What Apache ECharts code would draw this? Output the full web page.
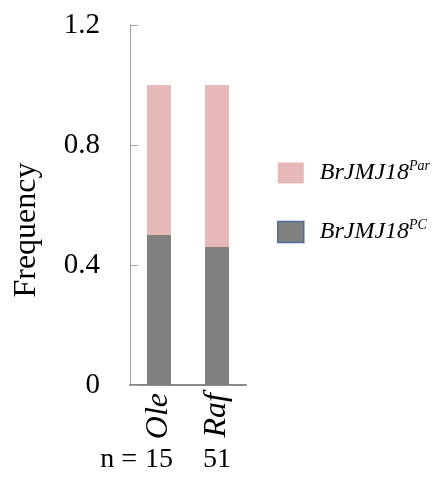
<!DOCTYPE html>
<html>
<head>
<meta charset="utf-8">
<script src="https://cdn.jsdelivr.net/npm/echarts@6/dist/echarts.min.js"></script>
<style>
  html, body { margin: 0; padding: 0; background: #fff; }
  #chart { width: 441px; height: 482px; }
</style>
</head>
<body>
<div id="chart"></div>
<script>
// Cultivars and sample sizes
const categories = ['Ole', 'Raf'];
const sampleSizes = ['15', '51'];
// Allele frequencies per cultivar
const pcFreq = [0.50, 0.46];
const parFreq = [0.50, 0.54];
const yTicks = { min: 0, max: 1.2, interval: 0.4 };

const serif = "'Liberation Serif', 'Times New Roman', Times, serif";
const pink = '#e6b8b7';
const grey = '#808080';

const chart = echarts.init(document.getElementById('chart'));
chart.setOption({
  animation: false,
  grid: { left: 130, top: 25, width: 116, height: 360 },
  graphic: [{
    type: 'text',
    x: 27, y: 230,
    rotation: Math.PI / 2,
    style: { text: 'Frequency', fontFamily: serif, fontSize: 32, fill: '#000', align: 'center', verticalAlign: 'middle' }
  }],
  legend: {
    orient: 'vertical',
    left: 272, top: 154,
    itemWidth: 26, itemHeight: 21, itemGap: 33,
    icon: 'rect',
    data: [
      { name: 'Par' },
      { name: 'PC', itemStyle: { borderColor: '#4f6d9a', borderWidth: 1.5 } }
    ],
    formatter: n => '{m|BrJMJ18}{s|' + n + '}',
    textStyle: {
      rich: {
        m: { fontFamily: serif, fontStyle: 'italic', fontSize: 24, color: '#000', padding: [0, 0, 0, 11], lineHeight: 28 },
        s: { fontFamily: serif, fontStyle: 'italic', fontSize: 14, color: '#000', verticalAlign: 'top', lineHeight: 28, padding: [0, 0, 8, 0] }
      }
    }
  },
  xAxis: [{
    type: 'category',
    data: categories,
    axisLine: { lineStyle: { color: '#888', width: 2 } },
    axisTick: { show: false },
    axisLabel: { rotate: 90, margin: 8, fontFamily: serif, fontStyle: 'italic', fontSize: 32, color: '#000' }
  }, {
    type: 'category',
    position: 'bottom',
    offset: 75,
    data: sampleSizes,
    name: 'n =',
    nameLocation: 'start',
    nameGap: -7,
    nameTextStyle: { fontFamily: serif, fontSize: 28, color: '#000', verticalAlign: 'middle' },
    axisLine: { show: false },
    axisTick: { show: false },
    axisLabel: { margin: 0, verticalAlign: 'middle', fontFamily: serif, fontSize: 28, color: '#000' }
  }],
  yAxis: {
    type: 'value',
    min: yTicks.min, max: yTicks.max, interval: yTicks.interval,
    axisLine: { show: true, lineStyle: { color: '#a0a0a0', width: 1 } },
    axisTick: { show: true, inside: true, length: 8, lineStyle: { color: '#a0a0a0' } },
    splitLine: { show: false },
    axisLabel: { margin: 30, fontFamily: serif, fontSize: 29, color: '#000' }
  },
  series: [
    { name: 'PC', type: 'bar', stack: 'f', barWidth: 24, data: pcFreq, itemStyle: { color: grey } },
    { name: 'Par', type: 'bar', stack: 'f', barWidth: 24, data: parFreq, itemStyle: { color: pink } }
  ]
});
</script>
</body>
</html>
